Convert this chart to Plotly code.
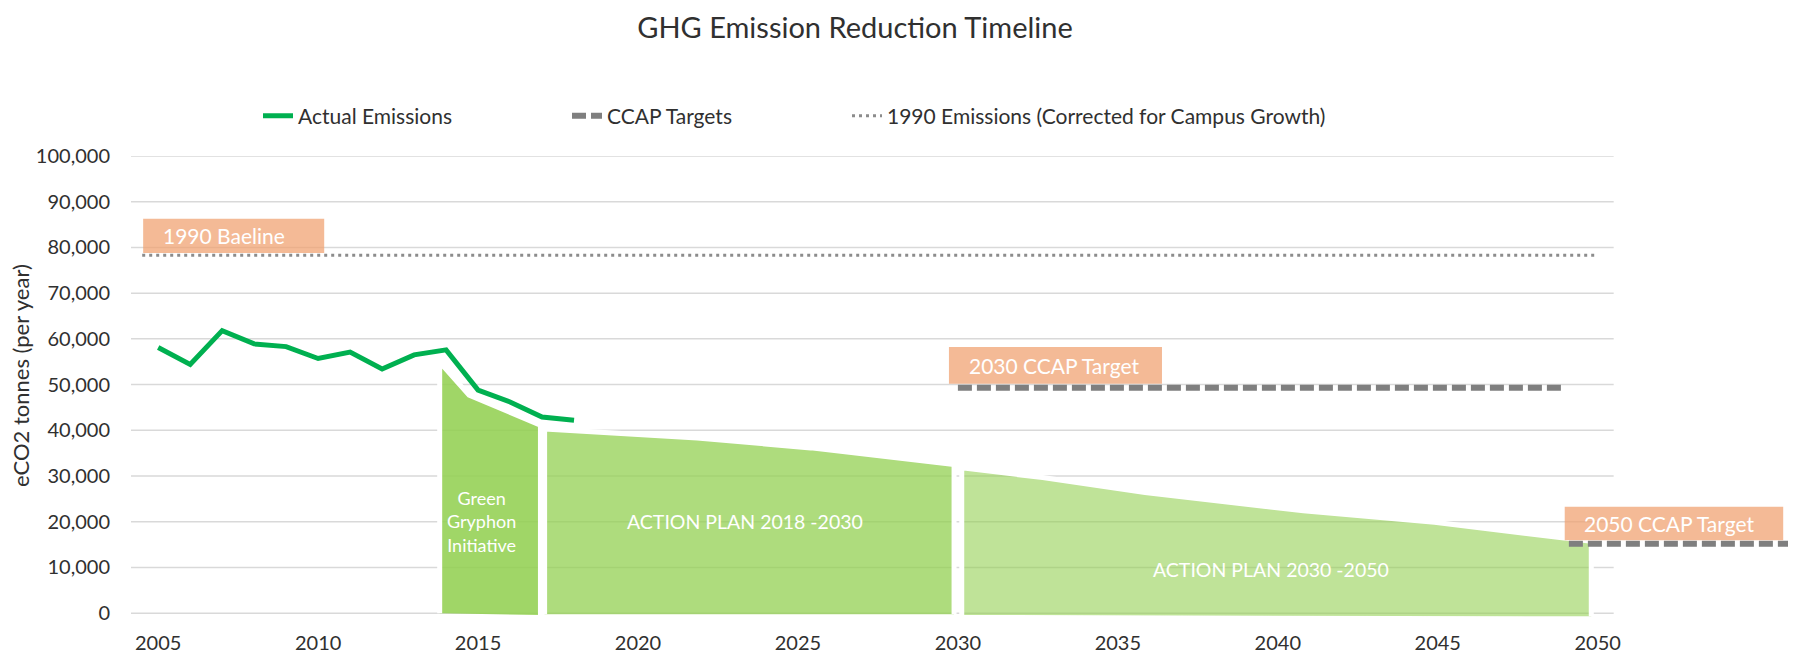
import plotly.graph_objects as go

# ---------------- data ----------------
years_actual = list(range(2005, 2019))
actual_emissions = [58100, 54400, 61800, 58900, 58300, 55700, 57100,
                    53400, 56500, 57600, 48800, 46200, 42900, 42200]

baseline_x = [2004.5, 2050.0]
baseline_y = [78300, 78300]

ccap_x = [2030.0, 2049.0, None, 2049.1, 2056.2]
ccap_y = [49300, 49300, None, 15200, 15200]

gg_x = [2013.8, 2013.8, 2014.72, 2016.95, 2016.95]
gg_y = [0, 54900, 47700, 41100, -400]

ap1_x = [2017.08, 2017.08, 2021.85, 2025.4, 2029.88, 2029.88]
ap1_y = [-250, 40300, 38300, 36150, 32500, -250]

ap2_x = [2030.12, 2030.12, 2032.65, 2035.85, 2040.8, 2044.9, 2049.8, 2049.8]
ap2_y = [-400, 31800, 29650, 26400, 22400, 19900, 15700, -700]

x_ticks = list(range(2005, 2051, 5))
y_ticks = list(range(0, 100001, 10000))

# label boxes: (x0, x1, y0, y1, text)
boxes = [
    (2004.53, 2010.19, 78780, 86260, "1990 Baeline"),
    (2029.72, 2036.38, 50180, 58200, "2030 CCAP Target"),
    (2048.97, 2055.80, 15960, 23260, "2050 CCAP Target"),
]

area_labels = [
    (2015.1, 20100, "Green<br>Gryphon<br>Initiative", 18),
    (2023.35, 20100, "ACTION PLAN 2018 -2030", 19.5),
    (2039.8, 9600, "ACTION PLAN 2030 -2050", 19.5),
]

FONT = "Lato"
TXT = "#303030"

fig = go.Figure()

# areas
for xs, ys, col in [(gg_x, gg_y, "rgba(146,208,80,0.87)"),
                    (ap1_x, ap1_y, "rgba(146,208,80,0.74)"),
                    (ap2_x, ap2_y, "rgba(146,208,80,0.59)")]:
    fig.add_trace(go.Scatter(x=xs, y=ys, fill="toself", fillcolor=col,
                             mode="lines", line=dict(color="white", width=5),
                             showlegend=False, hoverinfo="skip"))

fig.add_trace(go.Scatter(x=years_actual, y=actual_emissions, mode="lines",
                         name="Actual Emissions",
                         line=dict(color="#00B050", width=5),
                         legend="legend"))
fig.add_trace(go.Scatter(x=ccap_x, y=ccap_y, mode="lines", name="CCAP Targets",
                         line=dict(color="#7F7F7F", width=6, dash="14px,5px"),
                         connectgaps=False, legend="legend2"))
fig.add_trace(go.Scatter(x=baseline_x, y=baseline_y, mode="lines",
                         name="1990 Emissions (Corrected for Campus Growth)",
                         line=dict(color="#8C8C8C", width=3, dash="3px,4px"),
                         legend="legend3"))

shapes = []
for v in y_ticks:
    shapes.append(dict(type="line", xref="x", yref="y", x0=2004.15, x1=2050.5,
                       y0=v, y1=v, line=dict(color="#D9D9D9", width=1.5),
                       layer="below"))
annotations = []
for x0, x1, y0, y1, t in boxes:
    shapes.append(dict(type="rect", xref="x", yref="y", x0=x0, x1=x1, y0=y0, y1=y1,
                       fillcolor="rgba(240,160,110,0.72)", line=dict(width=0),
                       layer="above"))
    annotations.append(dict(x=x0 + 0.55, y=(y0 + y1) / 2, xref="x", yref="y",
                            text=t, showarrow=False, xanchor="left", yanchor="middle",
                            font=dict(family=FONT, size=21, color="white")))
for x, y, t, s in area_labels:
    annotations.append(dict(x=x, y=y, xref="x", yref="y", text=t, showarrow=False,
                            xanchor="center", yanchor="middle",
                            font=dict(family=FONT, size=s, color="white")))

# the page body adds an 8px offset; lay out in page pixels minus that offset
OFF = 8
W, H = 1796 - OFF, 655 - OFF
L, R, T, B = 131 - OFF, 0, 156 - OFF, 35
pw, ph = W - L - R, H - T - B

def px_x(px):  # page x pixel -> paper x
    return (px - OFF - L) / pw

def px_y(py):  # page y pixel -> paper y
    return (H - B - (py - OFF)) / ph

annotations.append(dict(x=px_x(20), y=px_y(376), xref="paper", yref="paper",
                        text="eCO2 tonnes (per year)", textangle=-90,
                        showarrow=False, xanchor="center", yanchor="middle",
                        font=dict(family=FONT, size=22, color=TXT)))

legend_common = dict(orientation="h", yanchor="middle", xanchor="left",
                     font=dict(family=FONT, size=21, color=TXT),
                     bgcolor="rgba(0,0,0,0)", y=px_y(116))

fig.update_layout(
    width=W, height=H,
    margin=dict(l=L, r=R, t=T, b=B, autoexpand=False),
    paper_bgcolor="white", plot_bgcolor="white",
    title=dict(text="GHG Emission Reduction Timeline", x=(855 - OFF) / W,
               xanchor="center", y=1 - (28 - OFF) / H, yanchor="middle",
               font=dict(family=FONT, size=29, color=TXT)),
    xaxis=dict(range=[2004.15, 2056.2], tickvals=x_ticks, showgrid=False,
               zeroline=False, showline=False, ticks="outside", ticklen=5,
               tickcolor="rgba(0,0,0,0)",
               tickfont=dict(family=FONT, size=20, color=TXT)),
    yaxis=dict(range=[-1500, 100000], tickvals=y_ticks, tickformat=",",
               showgrid=False, zeroline=False, showline=False, ticks="outside",
               ticklen=16, tickcolor="rgba(0,0,0,0)",
               tickfont=dict(family=FONT, size=20, color=TXT)),
    legend=dict(x=px_x(258), **legend_common),
    legend2=dict(x=px_x(567), **legend_common),
    legend3=dict(x=px_x(847), **legend_common),
    shapes=shapes, annotations=annotations,
)

fig.write_html("out.html")
